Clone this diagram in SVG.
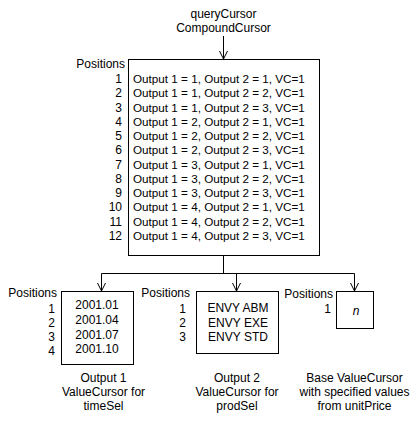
<svg xmlns="http://www.w3.org/2000/svg" width="418" height="421" viewBox="0 0 418 421">
<style>
text{font-family:"Liberation Sans",Arial,sans-serif;font-size:12px;fill:#000}
.row{font-size:11.7px}
.e{text-anchor:end}
.m{text-anchor:middle}
.box{fill:#fff;stroke:#000;stroke-width:1}
.ln{fill:none;stroke:#000;stroke-width:1}
</style>
<defs>
<marker id="v" markerUnits="userSpaceOnUse" viewBox="-9 -5 10 10" refX="0" refY="0" markerWidth="10" markerHeight="10" orient="auto">
<path d="M-8,-4 L0,0 L-8,4" fill="none" stroke="#000" stroke-width="1"/>
</marker>
</defs>
<rect width="418" height="421" fill="#fff"/>
<g id="title">
<text class="m" x="223.5" y="18">queryCursor</text>
<text class="m" x="223.5" y="32">CompoundCursor</text>
</g>
<g id="connectors">
<path class="ln" d="M223.5,36 V59" marker-end="url(#v)"/>
<path class="ln" d="M223.5,256 V273.5 M101.5,273.5 H354.5"/>
<path class="ln" d="M101.5,273.5 V291" marker-end="url(#v)"/>
<path class="ln" d="M236.5,273.5 V291" marker-end="url(#v)"/>
<path class="ln" d="M354.5,273.5 V291" marker-end="url(#v)"/>
</g>
<g id="compound">
<rect class="box" x="128.5" y="59.5" width="191" height="196"/>
<text class="e" x="125" y="68">Positions</text>
<g class="e">
<text class="e" x="122" y="83">1</text>
<text class="e" x="122" y="97">2</text>
<text class="e" x="122" y="112">3</text>
<text class="e" x="122" y="126">4</text>
<text class="e" x="122" y="140">5</text>
<text class="e" x="122" y="154">6</text>
<text class="e" x="122" y="169">7</text>
<text class="e" x="122" y="183">8</text>
<text class="e" x="122" y="197">9</text>
<text class="e" x="122" y="211">10</text>
<text class="e" x="122" y="226">11</text>
<text class="e" x="122" y="240">12</text>
</g>
<text class="row" x="133" y="83">Output 1 = 1, Output 2 = 1, VC=1</text>
<text class="row" x="133" y="97">Output 1 = 1, Output 2 = 2, VC=1</text>
<text class="row" x="133" y="112">Output 1 = 1, Output 2 = 3, VC=1</text>
<text class="row" x="133" y="126">Output 1 = 2, Output 2 = 1, VC=1</text>
<text class="row" x="133" y="140">Output 1 = 2, Output 2 = 2, VC=1</text>
<text class="row" x="133" y="154">Output 1 = 2, Output 2 = 3, VC=1</text>
<text class="row" x="133" y="169">Output 1 = 3, Output 2 = 1, VC=1</text>
<text class="row" x="133" y="183">Output 1 = 3, Output 2 = 2, VC=1</text>
<text class="row" x="133" y="197">Output 1 = 3, Output 2 = 3, VC=1</text>
<text class="row" x="133" y="211">Output 1 = 4, Output 2 = 1, VC=1</text>
<text class="row" x="133" y="226">Output 1 = 4, Output 2 = 2, VC=1</text>
<text class="row" x="133" y="240">Output 1 = 4, Output 2 = 3, VC=1</text>
</g>
<g id="output1">
<rect class="box" x="61.5" y="291.5" width="72" height="73"/>
<text class="e" x="57" y="297">Positions</text>
<text class="e" x="55" y="313">1</text>
<text class="e" x="55" y="327">2</text>
<text class="e" x="55" y="341">3</text>
<text class="e" x="55" y="355">4</text>
<text class="m" x="97" y="309">2001.01</text>
<text class="m" x="97" y="324">2001.04</text>
<text class="m" x="97" y="339">2001.07</text>
<text class="m" x="97" y="353">2001.10</text>
<text class="m" x="103.5" y="382">Output 1</text>
<text class="m" x="103.5" y="396">ValueCursor for</text>
<text class="m" x="103.5" y="410">timeSel</text>
</g>
<g id="output2">
<rect class="box" x="196.5" y="291.5" width="82" height="62"/>
<text class="e" x="190" y="297">Positions</text>
<text class="e" x="186" y="313">1</text>
<text class="e" x="186" y="327">2</text>
<text class="e" x="186" y="341">3</text>
<text class="m" x="238" y="312">ENVY ABM</text>
<text class="m" x="238" y="327">ENVY EXE</text>
<text class="m" x="238" y="341">ENVY STD</text>
<text class="m" x="237" y="382">Output 2</text>
<text class="m" x="237" y="396">ValueCursor for</text>
<text class="m" x="237" y="410">prodSel</text>
</g>
<g id="base">
<rect class="box" x="336.5" y="291.5" width="37" height="37"/>
<text class="e" x="333" y="298">Positions</text>
<text class="e" x="331" y="313">1</text>
<text class="m" x="356" y="315" font-style="italic">n</text>
<text class="m" x="354.5" y="382">Base ValueCursor</text>
<text class="m" x="354.5" y="396">with specified values</text>
<text class="m" x="354.5" y="410">from unitPrice</text>
</g>
</svg>
